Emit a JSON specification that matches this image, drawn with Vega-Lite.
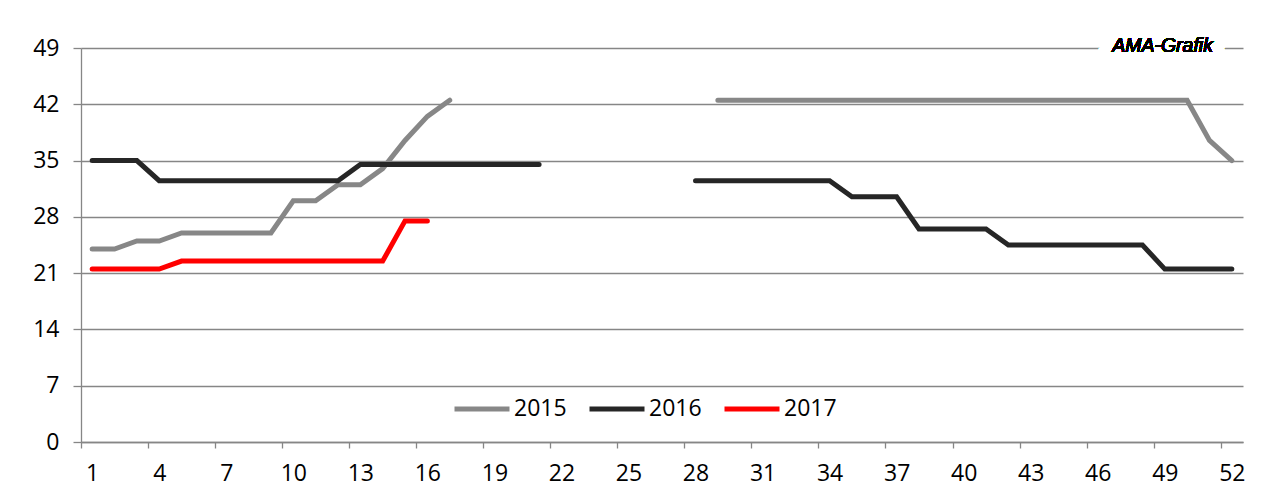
{
  "$schema": "https://vega.github.io/schema/vega-lite/v6.json",
  "autosize": "none",
  "width": 1162,
  "height": 394,
  "padding": {"left": 81, "top": 48, "right": 20, "bottom": 48},
  "background": "white",
  "config": {
    "view": {"stroke": null},
    "font": "Open Sans",
    "axis": {
      "labelFont": "Open Sans",
      "labelFontSize": 23,
      "labelColor": "#000000",
      "domainColor": "#868686",
      "tickColor": "#868686",
      "gridColor": "#868686",
      "domainWidth": 1.3,
      "tickWidth": 1.3,
      "gridWidth": 1.3,
      "title": null
    },
    "legend": {
      "labelFont": "Open Sans",
      "labelFontSize": 23,
      "labelColor": "#000000"
    }
  },
  "data": {
    "values": [
      {"week": 1, "year": "2015", "seg": "a", "price": 24},
      {"week": 2, "year": "2015", "seg": "a", "price": 24},
      {"week": 3, "year": "2015", "seg": "a", "price": 25},
      {"week": 4, "year": "2015", "seg": "a", "price": 25},
      {"week": 5, "year": "2015", "seg": "a", "price": 26},
      {"week": 6, "year": "2015", "seg": "a", "price": 26},
      {"week": 7, "year": "2015", "seg": "a", "price": 26},
      {"week": 8, "year": "2015", "seg": "a", "price": 26},
      {"week": 9, "year": "2015", "seg": "a", "price": 26},
      {"week": 10, "year": "2015", "seg": "a", "price": 30},
      {"week": 11, "year": "2015", "seg": "a", "price": 30},
      {"week": 12, "year": "2015", "seg": "a", "price": 32},
      {"week": 13, "year": "2015", "seg": "a", "price": 32},
      {"week": 14, "year": "2015", "seg": "a", "price": 34},
      {"week": 15, "year": "2015", "seg": "a", "price": 37.5},
      {"week": 16, "year": "2015", "seg": "a", "price": 40.5},
      {"week": 17, "year": "2015", "seg": "a", "price": 42.5},
      {"week": 29, "year": "2015", "seg": "b", "price": 42.5},
      {"week": 30, "year": "2015", "seg": "b", "price": 42.5},
      {"week": 31, "year": "2015", "seg": "b", "price": 42.5},
      {"week": 32, "year": "2015", "seg": "b", "price": 42.5},
      {"week": 33, "year": "2015", "seg": "b", "price": 42.5},
      {"week": 34, "year": "2015", "seg": "b", "price": 42.5},
      {"week": 35, "year": "2015", "seg": "b", "price": 42.5},
      {"week": 36, "year": "2015", "seg": "b", "price": 42.5},
      {"week": 37, "year": "2015", "seg": "b", "price": 42.5},
      {"week": 38, "year": "2015", "seg": "b", "price": 42.5},
      {"week": 39, "year": "2015", "seg": "b", "price": 42.5},
      {"week": 40, "year": "2015", "seg": "b", "price": 42.5},
      {"week": 41, "year": "2015", "seg": "b", "price": 42.5},
      {"week": 42, "year": "2015", "seg": "b", "price": 42.5},
      {"week": 43, "year": "2015", "seg": "b", "price": 42.5},
      {"week": 44, "year": "2015", "seg": "b", "price": 42.5},
      {"week": 45, "year": "2015", "seg": "b", "price": 42.5},
      {"week": 46, "year": "2015", "seg": "b", "price": 42.5},
      {"week": 47, "year": "2015", "seg": "b", "price": 42.5},
      {"week": 48, "year": "2015", "seg": "b", "price": 42.5},
      {"week": 49, "year": "2015", "seg": "b", "price": 42.5},
      {"week": 50, "year": "2015", "seg": "b", "price": 42.5},
      {"week": 51, "year": "2015", "seg": "b", "price": 37.5},
      {"week": 52, "year": "2015", "seg": "b", "price": 35},
      {"week": 1, "year": "2016", "seg": "a", "price": 35},
      {"week": 2, "year": "2016", "seg": "a", "price": 35},
      {"week": 3, "year": "2016", "seg": "a", "price": 35},
      {"week": 4, "year": "2016", "seg": "a", "price": 32.5},
      {"week": 5, "year": "2016", "seg": "a", "price": 32.5},
      {"week": 6, "year": "2016", "seg": "a", "price": 32.5},
      {"week": 7, "year": "2016", "seg": "a", "price": 32.5},
      {"week": 8, "year": "2016", "seg": "a", "price": 32.5},
      {"week": 9, "year": "2016", "seg": "a", "price": 32.5},
      {"week": 10, "year": "2016", "seg": "a", "price": 32.5},
      {"week": 11, "year": "2016", "seg": "a", "price": 32.5},
      {"week": 12, "year": "2016", "seg": "a", "price": 32.5},
      {"week": 13, "year": "2016", "seg": "a", "price": 34.5},
      {"week": 14, "year": "2016", "seg": "a", "price": 34.5},
      {"week": 15, "year": "2016", "seg": "a", "price": 34.5},
      {"week": 16, "year": "2016", "seg": "a", "price": 34.5},
      {"week": 17, "year": "2016", "seg": "a", "price": 34.5},
      {"week": 18, "year": "2016", "seg": "a", "price": 34.5},
      {"week": 19, "year": "2016", "seg": "a", "price": 34.5},
      {"week": 20, "year": "2016", "seg": "a", "price": 34.5},
      {"week": 21, "year": "2016", "seg": "a", "price": 34.5},
      {"week": 28, "year": "2016", "seg": "b", "price": 32.5},
      {"week": 29, "year": "2016", "seg": "b", "price": 32.5},
      {"week": 30, "year": "2016", "seg": "b", "price": 32.5},
      {"week": 31, "year": "2016", "seg": "b", "price": 32.5},
      {"week": 32, "year": "2016", "seg": "b", "price": 32.5},
      {"week": 33, "year": "2016", "seg": "b", "price": 32.5},
      {"week": 34, "year": "2016", "seg": "b", "price": 32.5},
      {"week": 35, "year": "2016", "seg": "b", "price": 30.5},
      {"week": 36, "year": "2016", "seg": "b", "price": 30.5},
      {"week": 37, "year": "2016", "seg": "b", "price": 30.5},
      {"week": 38, "year": "2016", "seg": "b", "price": 26.5},
      {"week": 39, "year": "2016", "seg": "b", "price": 26.5},
      {"week": 40, "year": "2016", "seg": "b", "price": 26.5},
      {"week": 41, "year": "2016", "seg": "b", "price": 26.5},
      {"week": 42, "year": "2016", "seg": "b", "price": 24.5},
      {"week": 43, "year": "2016", "seg": "b", "price": 24.5},
      {"week": 44, "year": "2016", "seg": "b", "price": 24.5},
      {"week": 45, "year": "2016", "seg": "b", "price": 24.5},
      {"week": 46, "year": "2016", "seg": "b", "price": 24.5},
      {"week": 47, "year": "2016", "seg": "b", "price": 24.5},
      {"week": 48, "year": "2016", "seg": "b", "price": 24.5},
      {"week": 49, "year": "2016", "seg": "b", "price": 21.5},
      {"week": 50, "year": "2016", "seg": "b", "price": 21.5},
      {"week": 51, "year": "2016", "seg": "b", "price": 21.5},
      {"week": 52, "year": "2016", "seg": "b", "price": 21.5},
      {"week": 1, "year": "2017", "seg": "a", "price": 21.5},
      {"week": 2, "year": "2017", "seg": "a", "price": 21.5},
      {"week": 3, "year": "2017", "seg": "a", "price": 21.5},
      {"week": 4, "year": "2017", "seg": "a", "price": 21.5},
      {"week": 5, "year": "2017", "seg": "a", "price": 22.5},
      {"week": 6, "year": "2017", "seg": "a", "price": 22.5},
      {"week": 7, "year": "2017", "seg": "a", "price": 22.5},
      {"week": 8, "year": "2017", "seg": "a", "price": 22.5},
      {"week": 9, "year": "2017", "seg": "a", "price": 22.5},
      {"week": 10, "year": "2017", "seg": "a", "price": 22.5},
      {"week": 11, "year": "2017", "seg": "a", "price": 22.5},
      {"week": 12, "year": "2017", "seg": "a", "price": 22.5},
      {"week": 13, "year": "2017", "seg": "a", "price": 22.5},
      {"week": 14, "year": "2017", "seg": "a", "price": 22.5},
      {"week": 15, "year": "2017", "seg": "a", "price": 27.5},
      {"week": 16, "year": "2017", "seg": "a", "price": 27.5}
    ]
  },
  "layer": [
    {
      "mark": {"type": "line", "strokeWidth": 5, "strokeCap": "round"},
      "encoding": {
        "x": {
          "field": "week",
          "type": "quantitative",
          "scale": {"domain": [0.5, 52.5], "nice": false, "zero": false},
          "axis": {
            "values": [0.5, 3.5, 6.5, 9.5, 12.5, 15.5, 18.5, 21.5, 24.5, 27.5, 30.5, 33.5, 36.5, 39.5, 42.5, 45.5, 48.5, 51.5],
            "labelExpr": "'' + (datum.value + 0.5)",
            "labelOffset": 11.17,
            "labelFontSize": 23,
            "labelFlush": false,
            "labelOverlap": false,
            "labelBound": false,
            "tickSize": 6,
            "labelPadding": 14,
            "grid": false
          }
        },
        "y": {
          "field": "price",
          "type": "quantitative",
          "scale": {"domain": [0, 49], "nice": false, "zero": true},
          "axis": {
            "values": [0, 7, 14, 21, 28, 35, 42, 49],
            "labelFontSize": 23,
            "tickSize": 8,
            "labelPadding": 14,
            "grid": true
          }
        },
        "color": {
          "field": "year",
          "type": "nominal",
          "scale": {"domain": ["2015", "2016", "2017"], "range": ["#878787", "#262626", "#ff0000"]},
          "legend": {
            "title": null,
            "orient": "none",
            "legendX": 371,
            "legendY": 331,
            "direction": "horizontal",
            "symbolType": "stroke",
            "symbolSize": 3025,
            "symbolStrokeWidth": 5,
            "labelFontSize": 23,
            "labelOffset": 2,
            "columnPadding": 12,
            "padding": 0
          }
        },
        "detail": {"field": "seg", "type": "nominal"},
        "order": {"field": "week", "type": "quantitative"}
      }
    },
    {
      "mark": {"type": "text", "text": "AMA-Grafik", "font": "Liberation Sans", "fontSize": 19.5, "fontStyle": "italic", "align": "center", "baseline": "middle", "dy": -2, "stroke": "white", "strokeWidth": 24, "fill": "white"},
      "encoding": {
        "x": {"datum": 48.9, "type": "quantitative"},
        "y": {"datum": 49, "type": "quantitative"}
      }
    },
    {
      "mark": {"type": "text", "text": "AMA-Grafik", "font": "Liberation Sans", "fontSize": 19.5, "fontStyle": "italic", "align": "center", "baseline": "middle", "dy": -2, "fill": "#000000"},
      "encoding": {
        "x": {"datum": 48.9, "type": "quantitative"},
        "y": {"datum": 49, "type": "quantitative"}
      }
    }
  ]
}
